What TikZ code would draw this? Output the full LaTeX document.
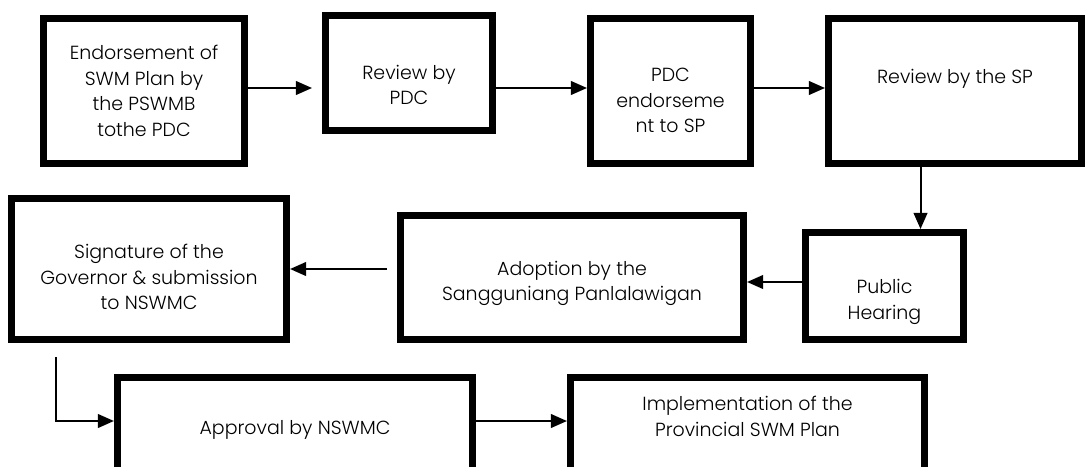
\documentclass[tikz,border=0pt]{standalone}
\usepackage{fontspec}
\setmainfont{Poppins Light}
\usetikzlibrary{positioning, arrows.meta, calc}

\begin{document}
\begin{tikzpicture}[x=0.025cm, y=-0.025cm,
        stepbox/.style={rectangle, draw, line width=0.175cm, align=center, inner sep=2pt,
            font=\fontsize{13.5}{18.2}\selectfont},
        flow/.style={-{Triangle[length=0.4cm, width=0.34cm]}, line width=0.05cm}]
                \useasboundingbox (0,0) rectangle (1089,466);
                \clip (0,0) rectangle (1089,466);

                \node[stepbox, minimum width=5.025cm, minimum height=3.625cm] (endorse) at (144, 91) {Endorsement of\\SWM Plan by\\the PSWMB\\tothe PDC};
                \node[stepbox, minimum width=4.175cm, minimum height=2.875cm, text height=1.6cm] (reviewpdc) at (409, 73) {Review by\\PDC};
                \node[stepbox, minimum width=4.0cm, minimum height=3.625cm, text height=2.1cm] (pdcend) at (670.5, 91) {PDC\\endorseme\\nt to SP};
                \node[stepbox, minimum width=6.325cm, minimum height=3.625cm, text depth=0.75cm] (reviewsp) at (955, 91) {Review by the SP};
                \node[stepbox, minimum width=3.95cm, minimum height=2.675cm, text height=1.8cm] (public) at (884.5, 286) {Public\\Hearing};
                \node[stepbox, minimum width=8.575cm, minimum height=3.1cm, text height=1.3cm] (adopt) at (572, 277.5) {Adoption by the\\Sangguniang Panlalawigan};
                \node[stepbox, minimum width=6.875cm, minimum height=3.525cm, text height=2.05cm] (sign) at (149, 269) {Signature of the\\Governor \& submission\\to NSWMC};
                \node[stepbox, minimum width=8.875cm, minimum height=2.625cm] (approve) at (295, 430) {Approval by NSWMC};
                \node[stepbox, minimum width=8.85cm, minimum height=2.625cm, text depth=0.68cm] (implement) at (747.5, 430) {Implementation of the\\Provincial SWM Plan};

                \draw[flow, shorten >=0.25cm] ([yshift=0.075cm]endorse.east) -- ([yshift=0.075cm]endorse.east -| reviewpdc.west);
                \draw[flow] ([yshift=0.075cm]pdcend.west -| reviewpdc.east) -- ([yshift=0.075cm]pdcend.west);
                \draw[flow] ([yshift=0.075cm]pdcend.east) -- ([yshift=0.075cm]pdcend.east -| reviewsp.west);
                \draw[flow] ([xshift=0.9cm]public.north |- reviewsp.south) -- ([xshift=0.9cm]public.north);
                \draw[flow] ([yshift=0.1cm]public.west) -- ([yshift=0.1cm]public.west -| adopt.east);
                \draw[flow, shorten <=0.25cm] (adopt.west |- sign.east) -- (sign.east);
                \draw[flow] ($(sign.south west)+(48,14)$) |- ([yshift=0.225cm]approve.west);
                \draw[flow] ([yshift=0.225cm]approve.east) -- ([yshift=0.225cm]approve.east -| implement.west);
            \end{tikzpicture}
\end{document}
